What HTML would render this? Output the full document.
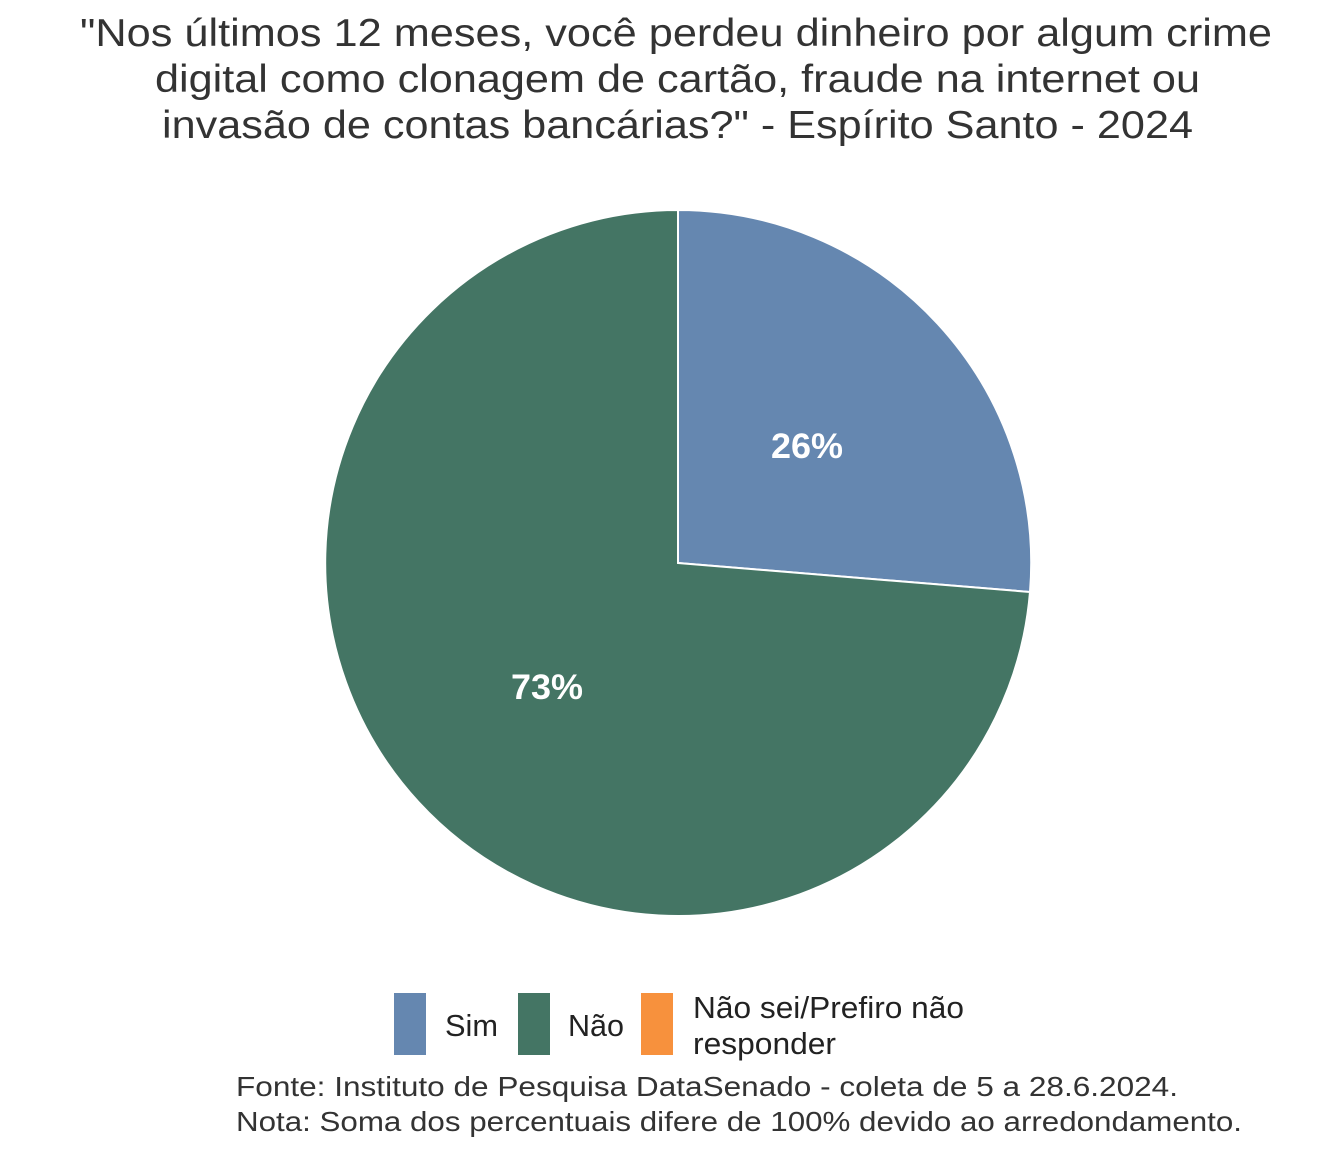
<!DOCTYPE html>
<html><head><meta charset="utf-8"><style>
body{margin:0;background:#fff;}
</style></head><body>
<svg width="1344" height="1152" xmlns="http://www.w3.org/2000/svg" style="font-family:'Liberation Sans',sans-serif">
<rect width="1344" height="1152" fill="#fff"/>
<g fill="#333" font-size="39">
<text x="80" y="46" textLength="1192" lengthAdjust="spacingAndGlyphs">"Nos últimos 12 meses, você perdeu dinheiro por algum crime</text>
<text x="155" y="92" textLength="1045" lengthAdjust="spacingAndGlyphs">digital como clonagem de cartão, fraude na internet ou</text>
<text x="162" y="138" textLength="1031" lengthAdjust="spacingAndGlyphs">invasão de contas bancárias?" - Espírito Santo - 2024</text>
</g>
<path d="M678,563 L678,210 A353,353 0 0 1 1030,592 Z" fill="#6587b0" stroke="#fff" stroke-width="2"/>
<path d="M678,563 L1030,592 A353,353 0 1 1 678,210 Z" fill="#447564" stroke="#fff" stroke-width="2"/>
<g fill="#fff" font-size="35" font-weight="bold">
<text x="771" y="458" textLength="72" lengthAdjust="spacingAndGlyphs">26%</text>
<text x="511" y="699" textLength="72" lengthAdjust="spacingAndGlyphs">73%</text>
</g>
<rect x="394" y="993" width="32" height="62" fill="#6587b0"/>
<rect x="518" y="993" width="32" height="62" fill="#447564"/>
<rect x="641" y="993" width="32" height="62" fill="#f7913d"/>
<g fill="#222" font-size="31">
<text x="445" y="1036" textLength="53" lengthAdjust="spacingAndGlyphs">Sim</text>
<text x="568" y="1036" textLength="56" lengthAdjust="spacingAndGlyphs">Não</text>
<text x="693" y="1018" textLength="271" lengthAdjust="spacingAndGlyphs">Não sei/Prefiro não</text>
<text x="693" y="1054" textLength="143" lengthAdjust="spacingAndGlyphs">responder</text>
</g>
<g fill="#333" font-size="28">
<text x="236" y="1096" textLength="942" lengthAdjust="spacingAndGlyphs">Fonte: Instituto de Pesquisa DataSenado - coleta de 5 a 28.6.2024.</text>
<text x="236" y="1131" textLength="1006" lengthAdjust="spacingAndGlyphs">Nota: Soma dos percentuais difere de 100% devido ao arredondamento.</text>
</g>
</svg>
</body></html>
